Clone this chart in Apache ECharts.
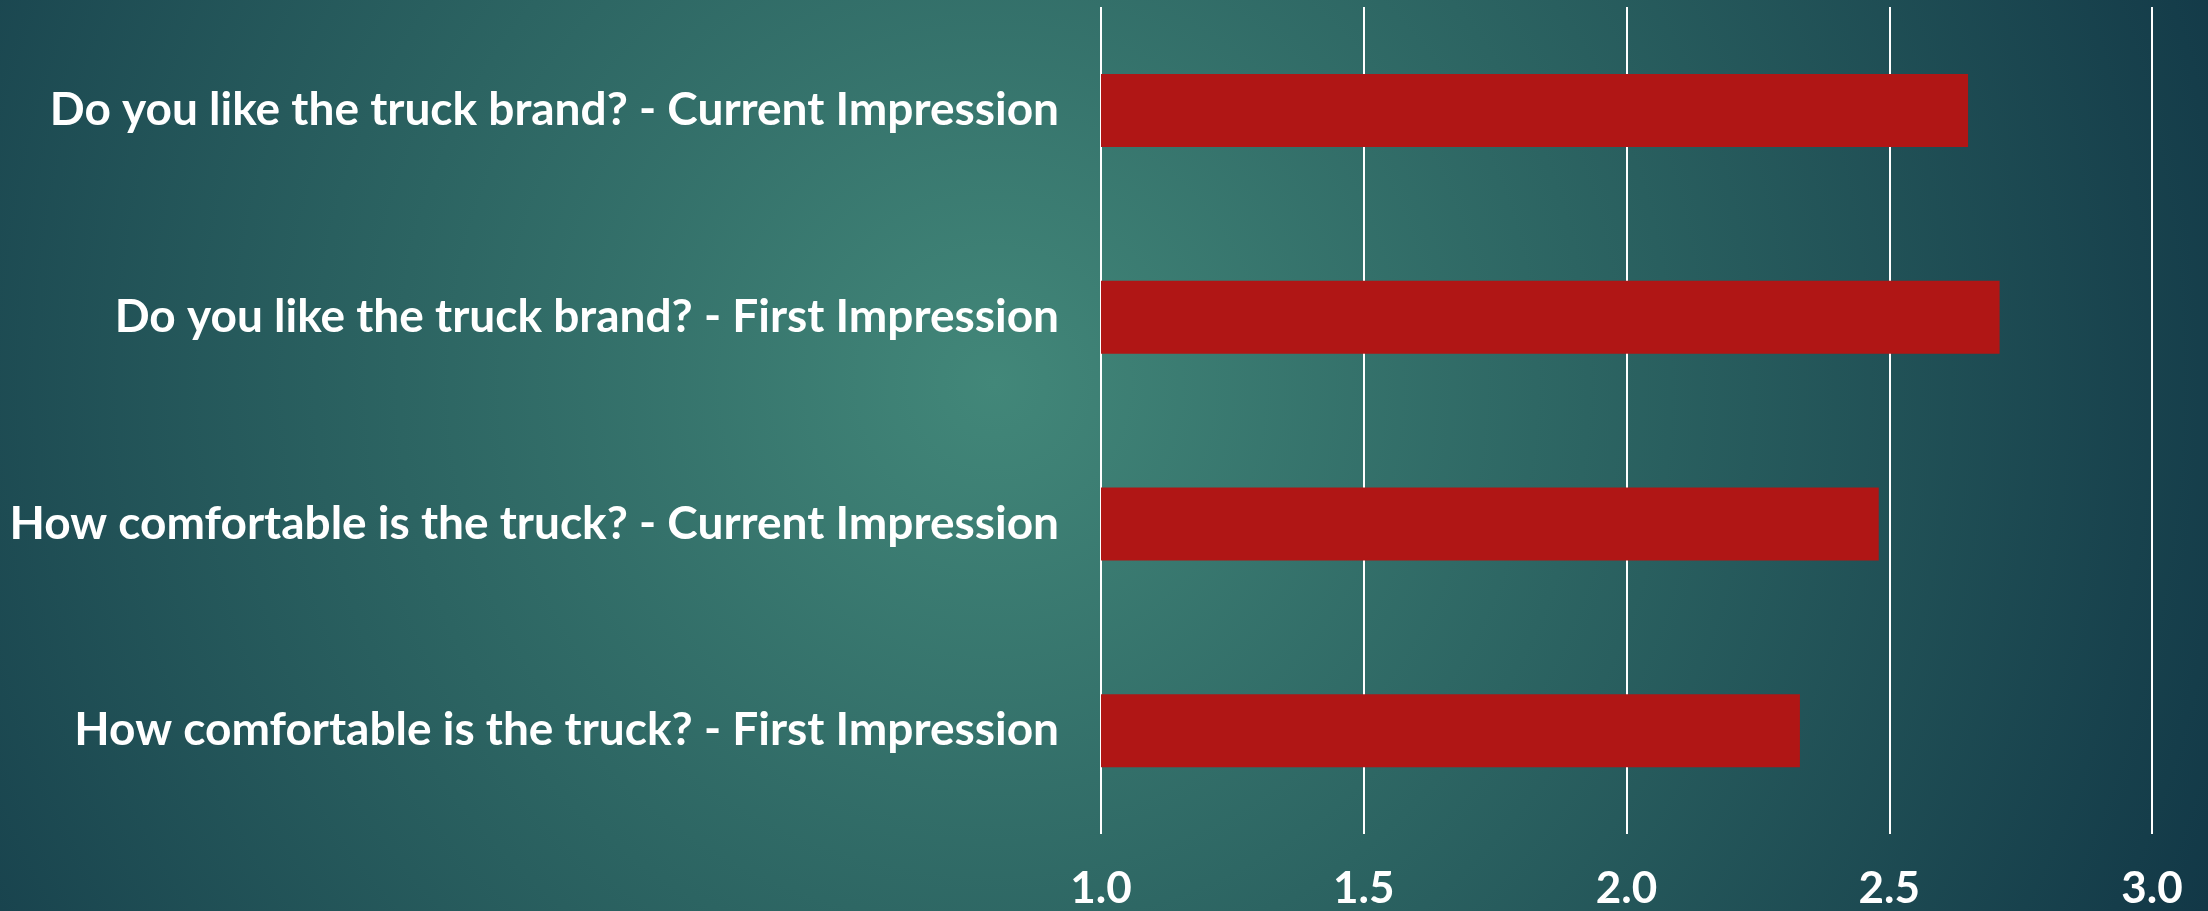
<!DOCTYPE html>
<html>
<head>
<meta charset="utf-8">
<script src="https://cdn.jsdelivr.net/npm/echarts@6/dist/echarts.min.js"></script>
<style>
html,body{margin:0;padding:0;width:2208px;height:911px;overflow:hidden;}
#chart{width:2208px;height:911px;}
</style>
</head>
<body>
<div id="chart"></div>
<script>
const categories = [
  'Do you like the truck brand? - Current Impression',
  'Do you like the truck brand? - First Impression',
  'How comfortable is the truck? - Current Impression',
  'How comfortable is the truck? - First Impression'
];
const scores = [2.65, 2.71, 2.48, 2.33];
const xMin = 1.0;
const xMax = 3.0;
const xStep = 0.5;

const chart = echarts.init(document.getElementById('chart'), null, {renderer: 'canvas'});
chart.setOption({
  backgroundColor: {
    type: 'radial', x: 0.45, y: 0.42, r: 1.45,
    colorStops: [
      {offset: 0, color: '#428779'},
      {offset: 0.45, color: '#2c6462'},
      {offset: 1, color: '#123847'}
    ]
  },
  animation: false,
  grid: {left: 1101, right: 56, top: 7, bottom: 75, containLabel: false},
  xAxis: {
    type: 'value', min: xMin, max: xMax, interval: xStep,
    axisLine: {show: false}, axisTick: {show: false},
    splitLine: {show: true, lineStyle: {color: '#ffffff', width: 2}},
    axisLabel: {
      color: '#ffffff', fontSize: 44, fontWeight: 'bold', fontFamily: 'Lato',
      margin: 33, formatter: v => v.toFixed(1)
    }
  },
  yAxis: {
    type: 'category', data: categories, inverse: true,
    axisLine: {show: false}, axisTick: {show: false},
    axisLabel: {color: '#ffffff', fontSize: 46, fontWeight: 'bold', fontFamily: 'Lato', margin: 42}
  },
  series: [{
    type: 'bar', data: scores, barWidth: 73,
    itemStyle: {color: '#b01615'}
  }]
});
</script>
</body>
</html>
